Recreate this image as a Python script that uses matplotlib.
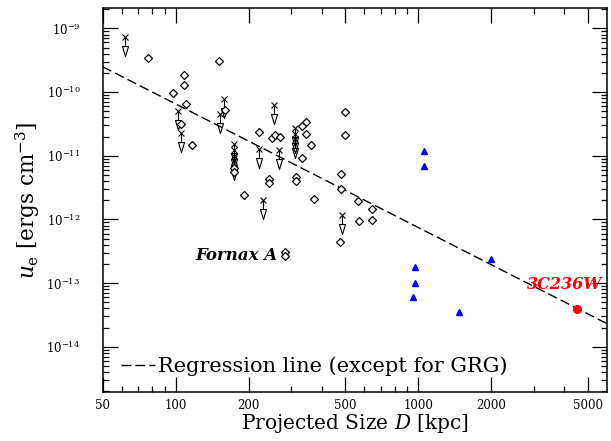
import numpy as np
import matplotlib
matplotlib.use('Agg')
import matplotlib.pyplot as plt
from matplotlib.path import Path
from matplotlib.ticker import FixedLocator, NullFormatter, LogFormatterSciNotation

plt.rcParams['font.family'] = ['DejaVu Serif']
plt.rcParams['mathtext.fontset'] = 'dejavuserif'

# detected lobes (open diamonds)
diamond_size = [76.9, 108.2, 108.2, 97.9, 110.3, 104.7, 117.1, 150.6, 159.6,
                174.4, 174.4, 191.2, 219.8, 249.4, 256.6, 269.6, 343.4, 332.6,
                343.0, 360.2, 332.6, 243.4, 243.4, 312.3, 312.3, 499.0, 499.0,
                481.6, 481.6, 372.4, 566.2, 645.6, 568.0, 645.6, 475.5,
                283.5, 283.5]
diamond_u = [3.42e-10, 1.85e-10, 1.31e-10, 9.8e-11, 6.6e-11, 3.14e-11, 1.47e-11,
             3.06e-10, 5.2e-11, 6.4e-12, 5.5e-12, 2.45e-12, 2.35e-11, 1.89e-11,
             2.11e-11, 1.96e-11, 3.41e-11, 2.92e-11, 2.21e-11, 1.49e-11, 9.1e-12,
             4.35e-12, 3.72e-12, 4.68e-12, 4.07e-12, 4.80e-11, 2.13e-11,
             5.21e-12, 2.96e-12, 2.08e-12, 1.94e-12, 1.44e-12, 9.3e-13, 9.8e-13,
             4.36e-13, 3.10e-13, 2.69e-13]

# upper limits (x with arrow)
limit_size = [61.8, 101.9, 105.2, 151.8, 158.6, 174.4, 174.4, 174.4, 174.4,
              219.8, 254.0, 267.3, 310.3, 310.3, 310.3, 229.6, 484.8]
limit_u = [7.2e-10, 5.0e-11, 2.25e-11, 4.5e-11, 7.8e-11, 1.52e-11, 1.23e-11,
           9.9e-12, 8.2e-12, 1.27e-11, 6.25e-11, 1.23e-11, 2.69e-11, 2.23e-11,
           1.83e-11, 2.01e-12, 1.17e-12]

# giant radio galaxies
grg_size = [1058, 1058, 1993, 967, 967, 951, 1475]
grg_u = [1.18e-11, 6.95e-12, 2.35e-13, 1.77e-13, 1.01e-13, 6.1e-14, 3.55e-14]

# 3C236W
c236_size = [4522]
c236_u = [3.91e-14]

# regression: log u = a + b log D
reg_a = -6.307
reg_b = -1.94

x_major = [50, 100, 200, 500, 1000, 2000, 5000]
x_minor = [60, 70, 80, 90, 300, 400, 600, 700, 800, 900, 3000, 4000]
y_major = [1e-14, 1e-13, 1e-12, 1e-11, 1e-10, 1e-9]

fig = plt.figure(figsize=(6.11, 4.41), dpi=100)
ax = fig.add_axes([0.168, 0.111, 0.8255, 0.871])
ax.set_xscale('log')
ax.set_yscale('log')
ax.set_xlim(50, 6000)
ax.set_ylim(1.95e-15, 2.09e-9)

xx = np.array(ax.get_xlim())
ax.plot(xx, 10 ** (reg_a + reg_b * np.log10(xx)), color='black', lw=1.0,
        dashes=(7, 3), label='Regression line (except for GRG)')

# arrow marker: line down from the point, open triangle head
arrow = Path([(0, 0), (0, -9), (-3, -9), (3, -9), (0, -19), (-3, -9)],
             [Path.MOVETO, Path.LINETO, Path.MOVETO, Path.LINETO, Path.LINETO,
              Path.CLOSEPOLY])
ax.plot(limit_size, limit_u, ls='none', marker=arrow, ms=27.4,
        mfc='none', mec='black', mew=0.8)
ax.plot(limit_size, limit_u, ls='none', marker='x', ms=4.3, mec='black', mew=0.8)

ax.plot(diamond_size, diamond_u, ls='none', marker='D', ms=3.6,
        mfc='white', mec='black', mew=0.9)
ax.plot(grg_size, grg_u, ls='none', marker='^', ms=5, mfc='blue', mec='blue')
ax.plot(c236_size, c236_u, ls='none', marker='o', ms=5.5, mfc='red', mec='red')

ax.text(262, 2.75e-13, 'Fornax A', ha='right', va='center', fontsize=12,
        fontweight='bold', style='italic')
ax.text(5715, 9.66e-14, '3C236W', ha='right', va='center', fontsize=11.5,
        fontweight='bold', style='italic', color='red')

# ticks
ax.xaxis.set_major_locator(FixedLocator(x_major))
ax.xaxis.set_minor_locator(FixedLocator(x_minor))
ax.xaxis.set_major_formatter(plt.FuncFormatter(lambda v, p: '%d' % v))
ax.xaxis.set_minor_formatter(NullFormatter())
y_minor = [m * d for d in [1e-15] + y_major for m in range(2, 10)]
ax.yaxis.set_major_locator(FixedLocator(y_major))
ax.yaxis.set_minor_locator(FixedLocator([v for v in y_minor if v < 2.09e-9]))
ax.yaxis.set_major_formatter(LogFormatterSciNotation())
ax.yaxis.set_minor_formatter(NullFormatter())
ax.tick_params(which='both', direction='in', top=True, right=True, width=0.9)
ax.tick_params(which='major', length=11)
ax.tick_params(which='minor', length=4.3)
ax.tick_params(axis='x', which='major', labelsize=8.5, pad=5)
ax.tick_params(axis='y', which='major', labelsize=8.5, pad=16)
for s in ax.spines.values():
    s.set_linewidth(1.1)

ax.set_xlabel(r'Projected Size $D$ [kpc]', fontsize=14.5, labelpad=0)
ax.set_ylabel(r'$u_{\rm e}$ [ergs cm$^{-3}$]', fontsize=15.5, labelpad=3)

ax.legend(loc='lower left', frameon=False, fontsize=15, handlelength=1.6,
          handletextpad=0.15, borderaxespad=0.2, bbox_to_anchor=(0.012, 0.008))

fig.savefig('out.png', dpi=100)
